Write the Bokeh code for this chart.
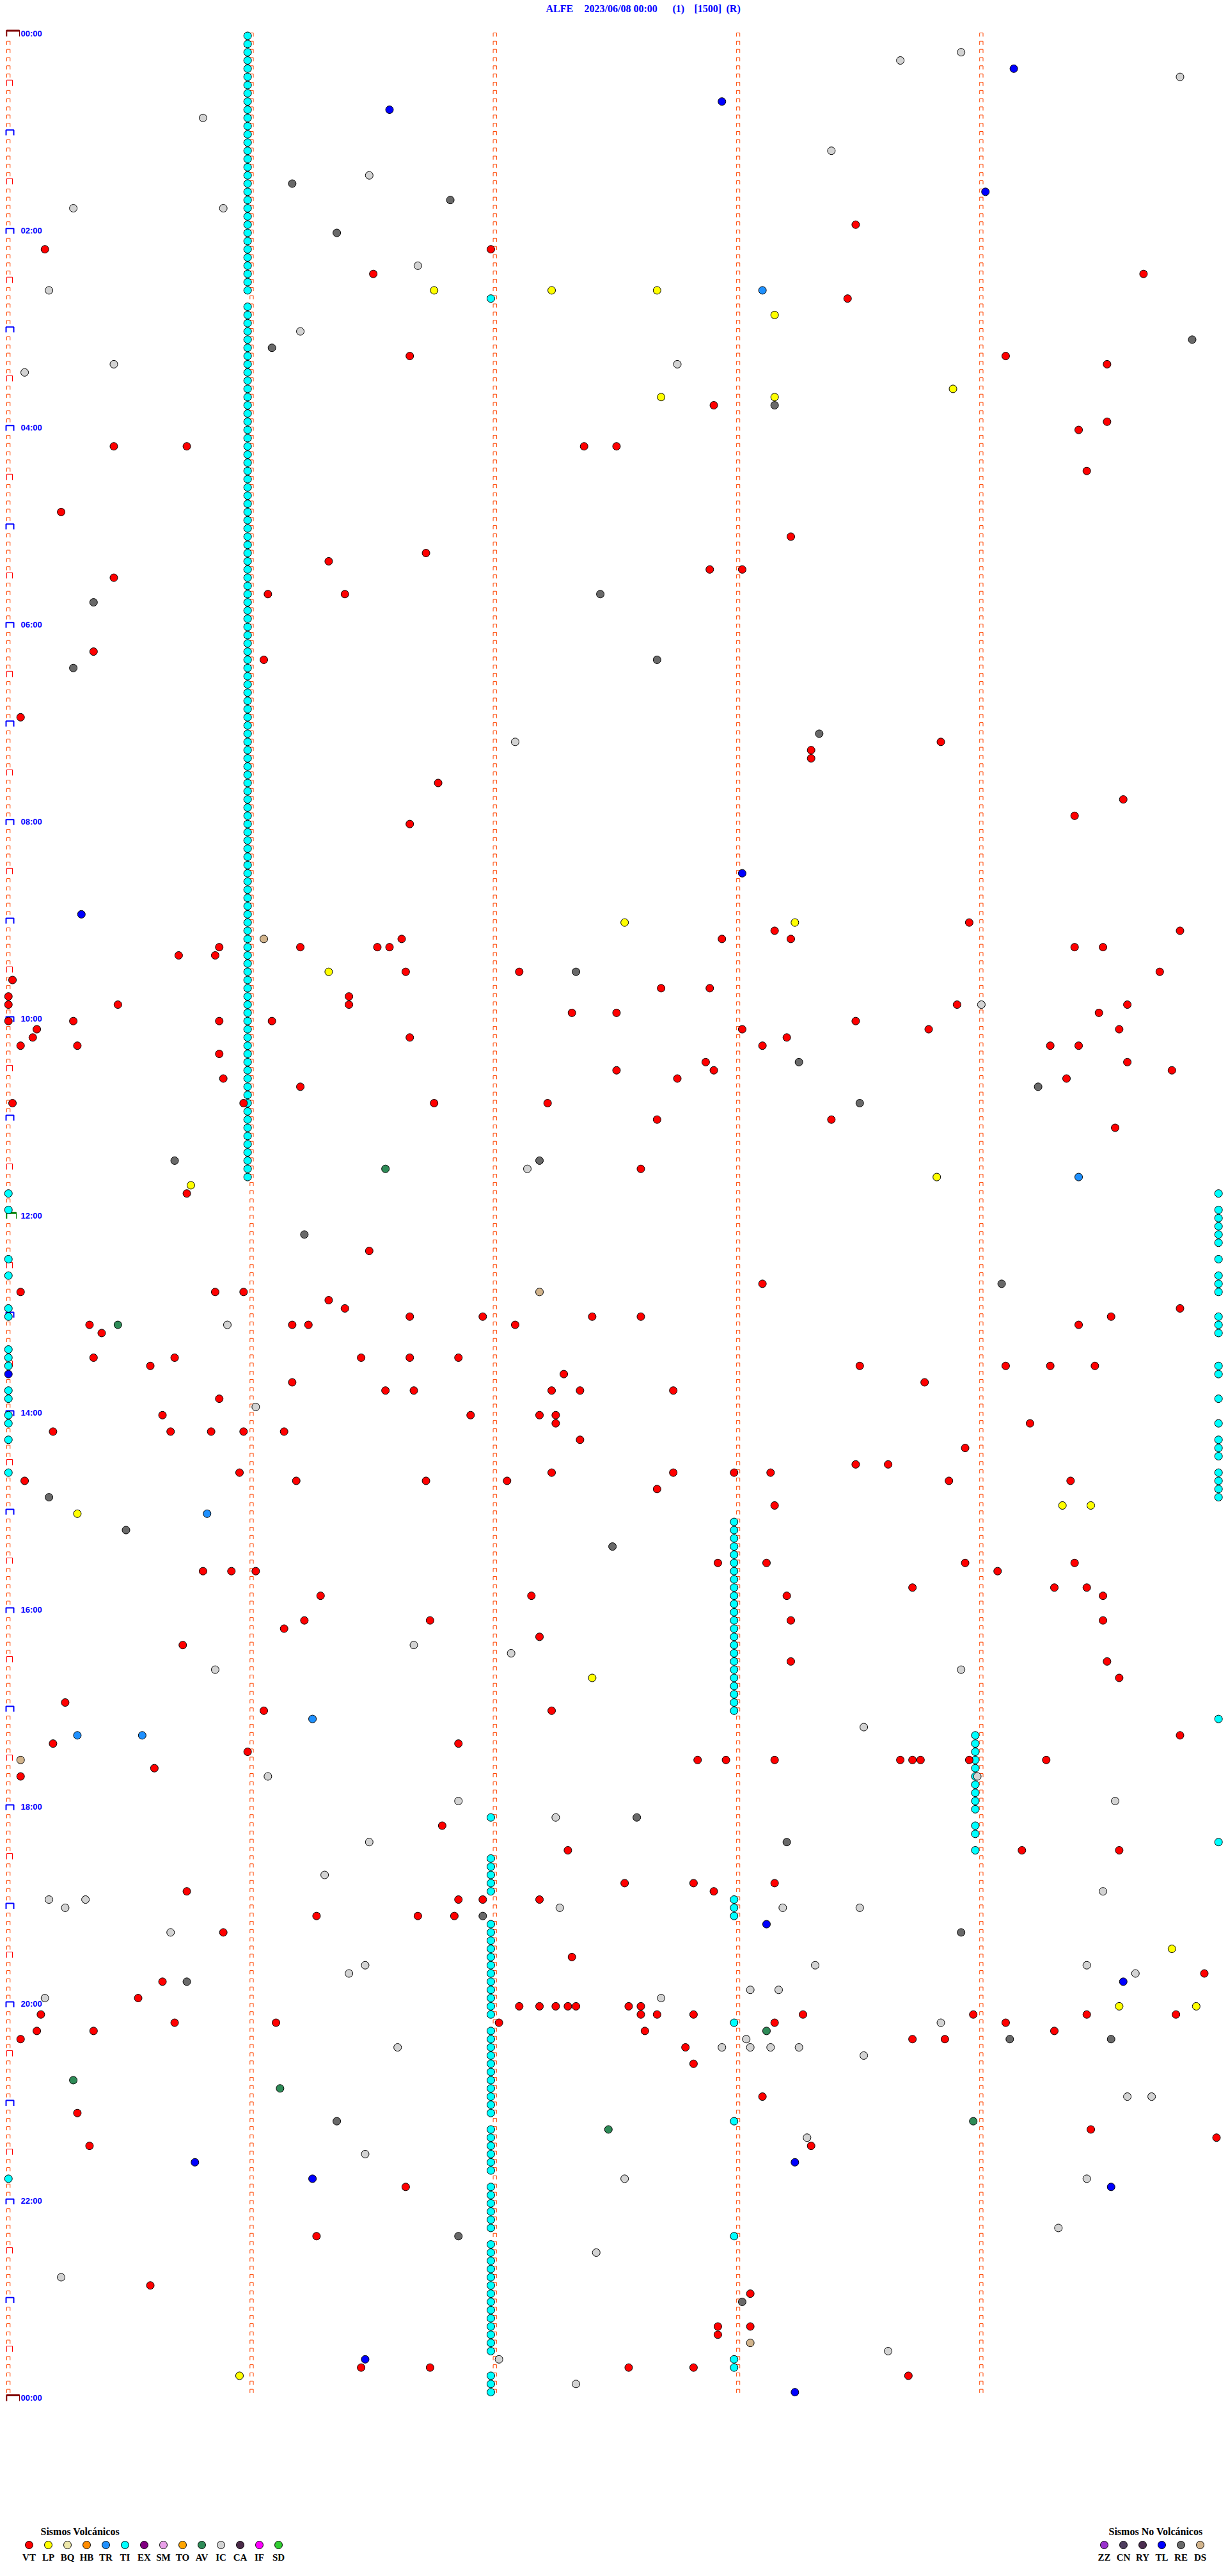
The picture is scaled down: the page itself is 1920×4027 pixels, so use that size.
from bokeh.plotting import figure
from bokeh.models import Range1d
from bokeh.core.properties import value
from bokeh.embed import file_html
from bokeh.resources import INLINE

# ---------------- data ----------------
STATION = "ALFE"
DATE_TXT = "2023/06/08 00:00"
TITLE_EXTRA = ["(1)", "[1500]", "(R)"]
ROW_MIN = 5            # minutes per drum row
HOUR_LABELS = ["00:00", "02:00", "04:00", "06:00", "08:00", "10:00", "12:00",
               "14:00", "16:00", "18:00", "20:00", "22:00", "00:00"]

VOLC_CODES = ["VT", "LP", "BQ", "HB", "TR", "TI", "EX", "SM", "TO", "AV", "IC", "CA", "IF", "SD"]
VOLC_COLORS = ["#FF0000", "#FFFF00", "#EEE8AA", "#FF8C00", "#1E90FF", "#00FFFF", "#800080",
               "#E8A0E8", "#FFA500", "#2E8B57", "#D3D3D3", "#4A2A48", "#FF00FF", "#32CD32"]
NOVOLC_CODES = ["ZZ", "CN", "RY", "TL", "RE", "DS"]
NOVOLC_COLORS = ["#9932CC", "#4E3D5E", "#4B2D50", "#0000FF", "#696969", "#D2B48C"]

# events: (row start "HH:MM", seconds into the 5-minute row)
VT = [("01:55",209),("02:10",9),("02:10",119),("02:25",90),("02:25",280),("02:40",207),
      ("03:15",99),("03:15",246),("03:20",271),("03:45",174),("03:55",271),("04:00",264),
      ("04:10",26),("04:10",44),("04:10",142),("04:10",150),("04:25",266),("04:50",13),
      ("05:05",193),("05:15",103),("05:20",79),("05:25",173),("05:25",181),("05:30",26),
      ("05:40",64),("05:40",83),
      ("06:15",21),("06:20",63),("06:55",3),("07:10",230),("07:15",198),("07:20",198),
      ("07:35",106),("07:45",275),("07:55",263),("08:00",99),
      ("09:00",237),("09:05",189),("09:05",289),("09:10",97),("09:10",176),("09:10",193),
      ("09:15",52),("09:15",72),("09:15",91),("09:15",94),("09:15",263),("09:15",270),
      ("09:20",42),("09:20",51),("09:30",98),("09:30",126),("09:30",284),("09:35",1),
      ("09:40",161),("09:40",173),("09:45",0),("09:45",84),
      ("09:50",0),("09:50",27),("09:50",84),("09:50",234),("09:50",276),
      ("09:55",139),("09:55",150),("09:55",269),
      ("10:00",0),("10:00",16),("10:00",52),("10:00",65),("10:00",209),
      ("10:05",7),("10:05",181),("10:05",227),("10:05",274),
      ("10:10",6),("10:10",99),("10:10",192),
      ("10:15",3),("10:15",17),("10:15",186),("10:15",257),("10:15",264),
      ("10:20",52),("10:25",172),("10:25",276),("10:30",150),("10:30",174),("10:30",287),
      ("10:35",53),("10:35",165),("10:35",261),("10:40",72),
      ("10:50",1),("10:50",58),("10:50",105),("10:50",133),
      ("11:00",160),("11:00",203),("11:05",273),("11:30",156),("11:45",44),
      ("12:20",89),("12:40",186),("12:45",3),("12:45",51),("12:45",58),("12:50",79),
      ("12:55",83),("12:55",289),
      ("13:00",99),("13:00",117),("13:00",144),("13:00",156),("13:00",272),
      ("13:05",20),("13:05",70),("13:05",74),("13:05",125),("13:05",264),("13:10",23),
      ("13:25",21),("13:25",41),("13:25",87),("13:25",99),("13:25",111),
      ("13:30",35),("13:30",210),("13:30",246),("13:30",257),("13:30",268),
      ("13:35",137),("13:40",70),("13:40",226),
      ("13:45",93),("13:45",100),("13:45",134),("13:45",141),("13:45",164),("13:50",52),
      ("14:00",38),("14:00",114),("14:00",131),("14:00",135),("14:05",135),("14:05",252),
      ("14:10",11),("14:10",40),("14:10",50),("14:10",58),("14:10",68),
      ("14:15",141),("14:20",236),("14:30",209),("14:30",217),
      ("14:35",57),("14:35",134),("14:35",164),("14:35",179),("14:35",188),
      ("14:40",4),("14:40",71),("14:40",103),("14:40",123),("14:40",232),("14:40",262),
      ("14:45",160),("14:55",189),
      ("15:30",175),("15:30",187),("15:30",236),("15:30",263),
      ("15:35",48),("15:35",55),("15:35",61),("15:35",244),
      ("15:45",223),("15:45",258),("15:45",266),
      ("15:50",77),("15:50",129),("15:50",192),("15:50",270),
      ("16:05",73),("16:05",104),("16:05",193),("16:05",270),
      ("16:10",68),("16:15",131),("16:20",43),("16:30",193),("16:30",271),("16:40",274),
      ("16:55",14),("17:00",63),("17:00",134),("17:15",289),("17:20",11),("17:20",111),
      ("17:25",59),
      ("17:30",170),("17:30",177),("17:30",189),("17:30",220),("17:30",223),("17:30",225),
      ("17:30",237),("17:30",256),
      ("17:35",36),("17:40",3),
      ("18:10",107),("18:25",138),("18:25",250),("18:25",274),
      ("18:45",152),("18:45",169),("18:45",189),("18:50",44),("18:50",174),
      ("18:55",111),("18:55",117),("18:55",131),
      ("19:05",76),("19:05",101),("19:05",110),("19:15",53),("19:30",139),("19:40",295),
      ("19:45",38),("19:55",32),
      ("20:00",126),("20:00",131),("20:00",135),("20:00",138),("20:00",140),("20:00",153),
      ("20:00",156),
      ("20:05",8),("20:05",156),("20:05",160),("20:05",169),("20:05",196),("20:05",238),
      ("20:05",266),("20:05",288),
      ("20:10",41),("20:10",66),("20:10",121),("20:10",189),("20:10",246),
      ("20:15",7),("20:15",21),("20:15",157),("20:15",258),
      ("20:20",3),("20:20",223),("20:20",231),
      ("20:25",167),("20:35",169),("20:55",186),("21:05",17),("21:15",267),("21:20",298),
      ("21:25",20),("21:25",198),("21:50",98),("22:20",76),("22:50",35),("22:55",183),
      ("23:15",175),("23:15",183),("23:20",175),
      ("23:40",87),("23:40",104),("23:40",153),("23:40",169),("23:45",222)]

LP = [("02:35",105),("02:35",134),("02:35",160),("02:50",189),("03:35",233),("03:40",161),
      ("03:40",189),("09:00",152),("09:00",194),("09:30",79),("11:35",229),("11:40",45),
      ("14:55",260),("14:55",267),("15:00",17),("16:40",144),("19:25",287),("20:00",274),
      ("20:00",293),("23:45",57)]

TR = [("02:35",186),("11:35",264),("15:00",49),("17:05",75),("17:15",17),("17:15",33)]

TL = [("00:20",248),("00:40",176),("00:45",94),("01:35",241),("08:30",181),("08:55",18),
      ("13:35",0),("19:10",187),("19:45",275),("21:35",46),("21:35",194),("21:45",75),
      ("21:50",272),("23:35",88),("23:55",194)]

IC = [("00:10",235),("00:15",220),("00:25",289),("00:50",48),("01:10",203),("01:25",89),
      ("01:45",16),("01:45",53),("02:20",101),("02:35",10),("03:00",72),("03:20",26),
      ("03:20",165),("03:25",4),("07:10",125),("09:50",240),("11:30",128),("13:05",54),
      ("13:55",61),("16:20",100),("16:25",124),("16:35",51),("16:35",235),("17:10",211),
      ("17:40",64),("17:40",239),("17:55",111),("17:55",273),("18:05",135),("18:20",89),
      ("18:40",78),("18:50",270),("18:55",10),("18:55",19),("19:00",14),("19:00",136),
      ("19:00",191),("19:00",210),("19:15",40),("19:35",88),("19:35",199),("19:35",266),
      ("19:40",84),("19:40",278),("19:50",183),("19:50",190),("19:55",9),("19:55",161),
      ("20:10",230),("20:20",182),("20:25",96),("20:25",176),("20:25",183),("20:25",188),
      ("20:25",195),("20:30",211),("20:55",276),("20:55",282),("21:20",197),("21:30",88),
      ("21:45",152),("21:45",266),("22:15",259),("22:30",145),("22:45",13),("23:30",217),
      ("23:35",121),("23:50",140)]

RE = [("01:30",70),("01:40",109),("02:00",81),("03:05",292),("03:10",65),("03:45",189),
      ("05:40",146),("05:45",21),("06:20",160),("06:25",16),("07:05",200),("09:30",140),
      ("10:25",195),("10:40",254),("10:50",210),("11:25",41),("11:25",131),("12:10",73),
      ("12:40",245),("14:50",10),("15:10",29),("15:20",149),("18:05",155),("18:20",192),
      ("19:05",117),("19:15",235),("19:45",44),("20:20",247),("20:20",272),("21:10",81),
      ("22:20",111),("23:00",181)]

AV = [("11:30",93),("13:05",27),("20:15",187),("20:45",16),("20:50",67),("21:10",238),
      ("21:15",148)]

DS = [("09:10",63),("12:45",131),("17:30",3),("23:25",183)]

# TI (tremor) detections, one per row over each run: (first row, last row, seconds)
TI_RUNS = [("00:00","02:35",59),("02:40","02:40",119),("02:45","11:35",59),
           ("11:45","11:45",0),("11:45","11:45",298.5),
           ("11:55","11:55",0),("11:55","12:15",298.5),
           ("12:25","12:25",0),("12:25","12:25",298.5),
           ("12:35","12:35",0),("12:35","12:45",298.5),
           ("12:55","13:00",0),("13:00","13:10",298.5),
           ("13:20","13:30",0),("13:30","13:35",298.5),
           ("13:45","13:50",0),("13:50","13:50",298.5),
           ("14:00","14:05",0),("14:05","14:05",298.5),
           ("14:15","14:15",0),("14:15","14:25",298.5),
           ("14:35","14:35",0),("14:35","14:50",298.5),
           ("15:05","17:00",179),("17:05","17:05",298.5),
           ("17:15","18:00",238.5),("18:05","18:05",119),("18:10","18:15",238.5),
           ("18:20","18:20",298.5),("18:25","18:25",238.5),
           ("18:30","18:50",119),("18:55","19:05",179),("19:10","20:05",119),
           ("20:10","20:10",179),("20:15","21:05",119),("21:10","21:10",179),
           ("21:15","21:40",119),("21:45","21:45",0),("21:50","22:15",119),
           ("22:20","22:20",179),("22:25","23:30",119),("23:35","23:40",179),
           ("23:45","23:55",119)]

EVENTS = [("TI", None), ("VT", VT), ("LP", LP), ("TR", TR), ("TL", TL), ("IC", IC),
          ("RE", RE), ("AV", AV), ("DS", DS)]

# ---------------- geometry helpers (page px -> data) ----------------
PX_PER_SEC = 380.3 / 60.0
PX_PER_ROW = 12.835
X0_PX = 12.7           # page x of second 0
Y0_PX = 55.5           # page y of row 0 marker centre
W, H = 1920, 4027
OFF = 0                # page offset of the canvas

def sx(px):
    return (px - X0_PX) / PX_PER_SEC

def ry(py):
    return (py - Y0_PX) / PX_PER_ROW

def dr(px):
    return px / PX_PER_ROW

def hm_row(hm):
    h, m = hm.split(":")
    return (int(h) * 60 + int(m)) / ROW_MIN

COLOR = dict(zip(VOLC_CODES, VOLC_COLORS))
COLOR.update(dict(zip(NOVOLC_CODES, NOVOLC_COLORS)))

p = figure(width=W, height=H, output_backend="svg", toolbar_location=None,
           x_range=Range1d(sx(OFF), sx(OFF + W)), y_range=Range1d(ry(OFF + H), ry(OFF)),
           x_axis_type=None, y_axis_type=None, min_border=0,
           background_fill_color="white", border_fill_color="white")
p.outline_line_color = None
p.grid.visible = False

# ---------------- minute ticks ----------------
n_rows = 24 * 60 // ROW_MIN
tx, ty = [], []
for r in range(n_rows):
    for k in range(5):
        if k == 0 and r % 6 == 0:
            continue
        x0 = sx(10) + 60 * k
        x1 = sx(15.3) + 60 * k
        top, bot = r + dr(-4.5), r + dr(1.2)
        tx.append([x0, x0, x1, x1])
        ty.append([bot, top, top, bot])
p.multi_line(tx, ty, line_color="#FF4500", line_width=1)

# hour / half hour brackets
hx, hy, fx, fy = [], [], [], []
for r in range(0, n_rows + 1, 6):
    if r % 144 == 0:
        continue
    if r % 12 == 0:
        x0, x1 = sx(9), sx(21)
        hx.append([x0, x0, x1, x1])
        hy.append([r + dr(1.5), r + dr(-6.8), r + dr(-6.8), r + dr(1.5)])
    else:
        x0, x1 = sx(10), sx(19)
        fx.append([x0, x0, x1, x1])
        fy.append([r + dr(1.2), r + dr(-7.8), r + dr(-7.8), r + dr(1.2)])
p.multi_line(hx, hy, line_color="#0000FF", line_width=2)
p.multi_line(fx, fy, line_color="#FF0000", line_width=1)

for r, col, x1px in [(0, "#800000", 30), (n_rows, "#800000", 30), (n_rows // 2, "#008000", 25)]:
    x0, x1 = sx(9.8), sx(x1px)
    top, bot = r + dr(-9.0), r + dr(1.0)
    p.line([x0, x0], [bot, top], line_color=col, line_width=2)
    p.line([x1, x1], [bot, top], line_color=col, line_width=1)
    p.line([x0, x1], [top + dr(1), top + dr(1)], line_color=col, line_width=3)

# time labels
lab_rows = [i * 24 for i in range(len(HOUR_LABELS))]
p.text(x=[sx(32)] * len(lab_rows), y=[r + dr(-3.5) for r in lab_rows], text=HOUR_LABELS,
       text_font=value("Liberation Sans"), text_font_style="bold", text_font_size="13px",
       text_color="#0000FF", text_align="left", text_baseline="middle")

# ---------------- events ----------------
for code, evs in EVENTS:
    xs, ys = [], []
    if code == "TI":
        for a, b, s in TI_RUNS:
            for r in range(int(hm_row(a)), int(hm_row(b)) + 1):
                xs.append(s)
                ys.append(r)
    else:
        for hm, s in evs:
            xs.append(s)
            ys.append(hm_row(hm))
    p.scatter(xs, ys, size=12, fill_color=COLOR[code], line_color="black", line_width=1)

# ---------------- title ----------------
title_txt = [STATION, DATE_TXT] + TITLE_EXTRA
title_px = [853, 913, 1051, 1085, 1135]
p.text(x=[sx(v) for v in title_px], y=[ry(13)] * len(title_txt), text=title_txt,
       text_font=value("Liberation Serif"), text_font_style="bold", text_font_size="16px",
       text_color="#0000FF", text_align="left", text_baseline="middle")

# ---------------- legend ----------------
def legend_block(codes, colors, x_first, head, head_x):
    xs = [sx(x_first + 30 * i) for i in range(len(codes))]
    p.scatter(xs, [ry(3978)] * len(codes), size=12, fill_color=colors,
              line_color="black", line_width=1)
    p.text(x=xs, y=[ry(3997)] * len(codes), text=codes,
           text_font=value("Liberation Serif"), text_font_style="bold", text_font_size="15px",
           text_color="black", text_align="center", text_baseline="middle")
    p.text(x=[sx(head_x)], y=[ry(3957)], text=[head],
           text_font=value("Liberation Serif"), text_font_style="bold", text_font_size="16px",
           text_color="black", text_align="left", text_baseline="middle")

legend_block(VOLC_CODES, VOLC_COLORS, 45, "Sismos Volcánicos", 63)
legend_block(NOVOLC_CODES, NOVOLC_COLORS, 1726, "Sismos No Volcánicos", 1733)

open("out.html", "w").write(file_html(p, INLINE))
